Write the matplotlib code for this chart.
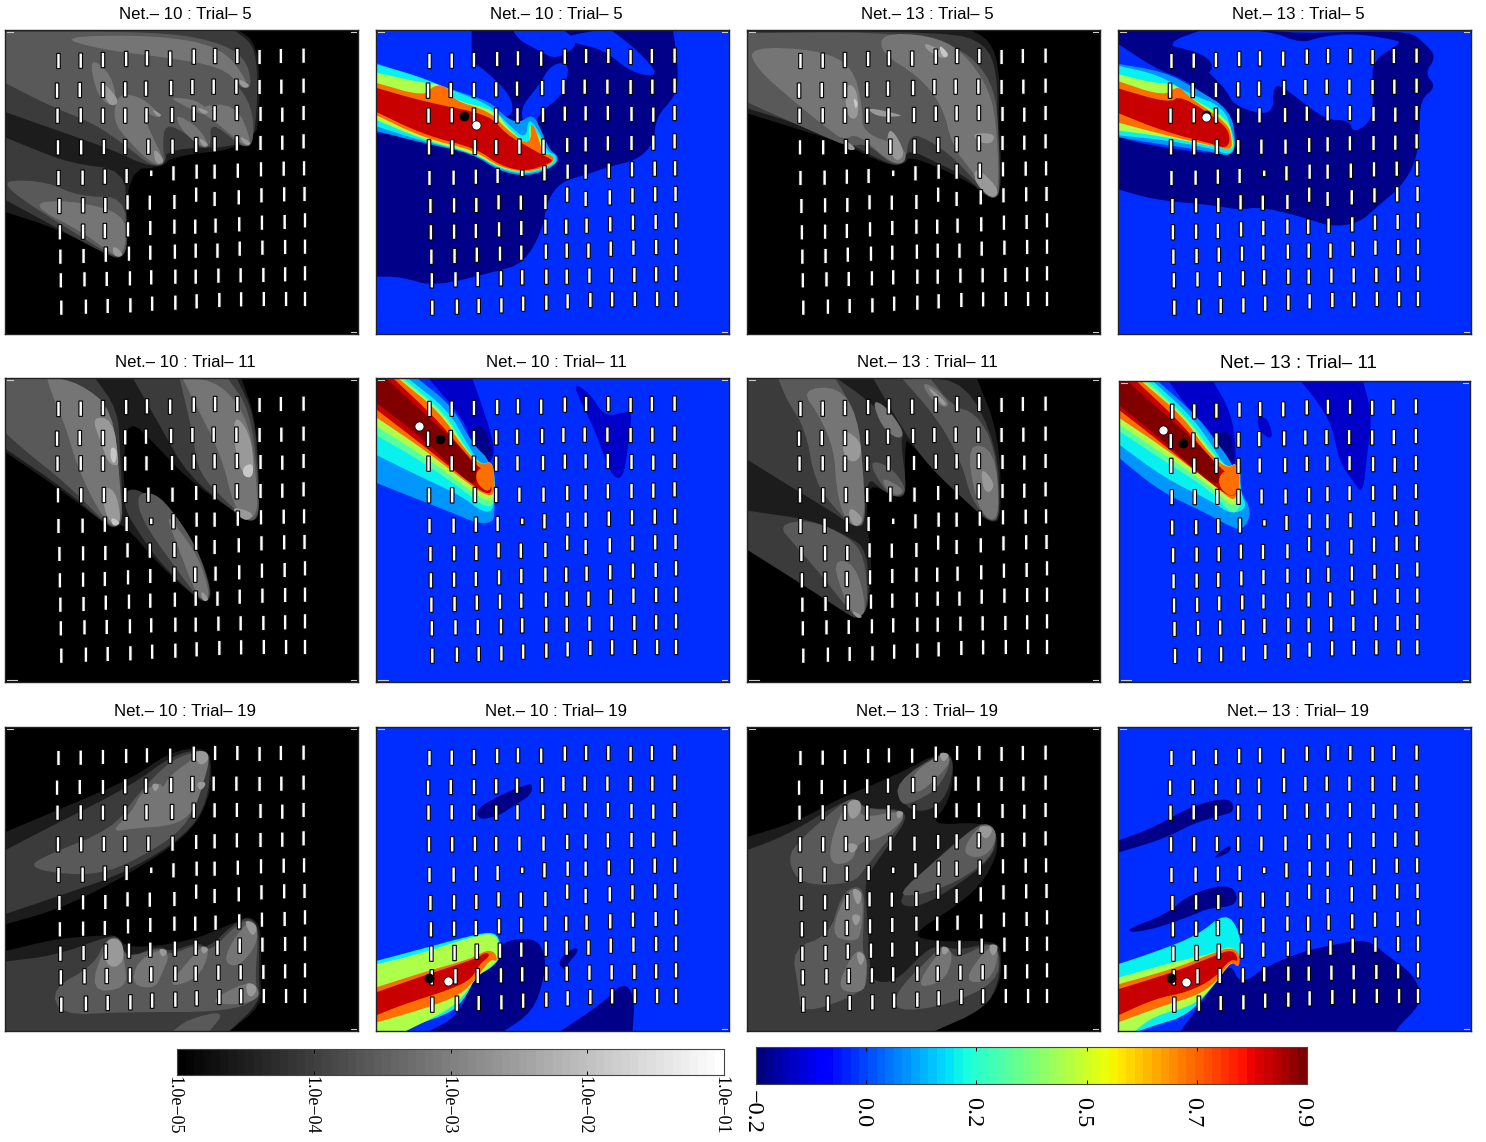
import numpy as np
import matplotlib
matplotlib.use('Agg')
import matplotlib.pyplot as plt
from matplotlib.transforms import offset_copy

W, H = 1486, 1142

# contour levels, grey maps are 0-1 grey, colour maps are values on the colourbar
G1, G2, G3, G4, G5, G6 = 0.11, 0.23, 0.35, 0.46, 0.60, 0.78
NAVY, MID, BG, LB, CY, TE, YG, OR, RD, DR = -0.19, -0.13, -0.013, 0.10, 0.196, 0.30, 0.416, 0.67, 0.83, 0.90

nets = [10, 10, 13, 13]
trials = [5, 11, 19]
grey_ticks = ['1.0e\u221205', '1.0e\u221204', '1.0e\u221203', '1.0e\u221202', '1.0e\u221201']
jet_ticks = ['\u22120.2', '0.0', '0.2', '0.5', '0.7', '0.9']
jet_pos = [-0.2, 0.02, 0.24, 0.46, 0.68, 0.9]

# sensor positions
sensor_x = [
    [125, 172, 219, 268, 312, 361, 411, 456, 503, 550, 595, 643],
    [122, 170, 219, 266, 310, 363, 408, 453, 501, 550, 596, 643],
    [123, 172, 219, 266, 311, 365, 411, 455, 502, 552, 598, 643],
    [124, 173, 221, 266, 315, 366, 416, 455, 502, 552, 598, 643],
    [125, 176, 223, 269, 321, 368, 417, 455, 504, 553, 601, 644],
    [127, 177, 224, 271, 318, 370, 416, 455, 506, 554, 602, 645],
    [128, 177, 223, 272, 319, 370, 414, 457, 507, 555, 603, 646],
    [129, 178, 225, 274, 319, 371, 415, 461, 508, 556, 604, 646],
    [130, 180, 227, 276, 321, 372, 415, 463, 510, 558, 604, 646],
    [131, 183, 229, 277, 323, 372, 417, 465, 511, 559, 606, 646],
]
sensor_y = [
    [183, 182, 180, 177, 175, 176, 170, 168, 168, 171, 168, 167],
    [272, 270, 270, 268, 266, 264, 261, 260, 260, 261, 260, 257],
    [347, 346, 347, 347, 346, 345, 341, 340, 339, 342, 344, 339],
    [442, 442, 441, 441, 440, 440, 435, 433, 430, 429, 428, 424],
    [534, 533, 530, 528, 520, 520, 515, 515, 512, 508, 506, 505],
    [618, 616, 615, 607, 608, 606, 584, 597, 592, 586, 583, 582],
    [697, 695, 693, 688, 684, 680, 680, 677, 673, 668, 666, 661],
    [770, 768, 764, 761, 758, 755, 752, 752, 746, 743, 741, 740],
    [841, 838, 837, 835, 832, 830, 830, 827, 826, 825, 823, 820],
    [923, 920, 918, 916, 911, 908, 904, 900, 898, 897, 897, 897],
]

# traced outlines, lowest level first
p1 = [
    (G1, [(0,85),(500,85),(545,130),(552,300),(540,440),(360,470),(350,500),(270,510),(268,770),(235,770),(130,690),(0,630)]),
    (G2, [(0,85),(490,85),(535,130),(545,200),(545,320),(535,440),(355,445),(350,495),(310,497),(240,450),(130,395),(0,330)]),
    (G2, [(0,405),(60,440),(150,490),(265,510),(268,640),(272,740),(258,775),(235,770),(130,690),(0,590)]),
    (G3, [(0,95),(330,95),(450,120),(520,170),(535,262),(512,265),(495,240),(535,320),(538,437),(510,440),(480,400),(445,370),(448,440),(425,445),(395,400),(350,370),(345,440),(352,495),(320,497),(270,440),(200,370),(110,320),(0,240)]),
    (G3, [(20,540),(100,545),(170,590),(265,590),(270,730),(262,770),(240,770),(150,690),(60,610),(15,560)]),
    (G4, [(120,110),(330,105),(470,140),(528,250),(512,262),(470,200),(340,170),(220,150)]),
    (G4, [(190,170),(235,220),(250,310),(232,318),(205,280)]),
    (G4, [(250,280),(300,290),(345,350),(330,352),(300,330),(320,400),(352,490),(325,495),(270,420),(240,360)]),
    (G4, [(355,290),(420,300),(445,340),(430,345),(395,320)]),
    (G4, [(410,320),(500,310),(535,430),(515,438),(470,380)]),
    (G4, [(370,340),(420,380),(445,440),(425,440),(385,390)]),
    (G4, [(60,610),(150,600),(265,640),(268,730),(255,770),(235,760),(180,700)]),
    (G5, [(215,240),(248,290),(250,312),(235,318),(222,290)]),
    (G5, [(505,235),(530,255),(522,265),(510,258)]),
    (G5, [(320,325),(345,345),(335,352)]),
    (G5, [(415,320),(445,335),(432,345)]),
    (G5, [(505,405),(535,430),(520,438)]),
    (G5, [(420,410),(445,435),(430,442)]),
    (G5, [(325,440),(352,485),(330,495)]),
    (G5, [(240,735),(262,760),(255,772),(240,765)]),
]
p2 = [
    (NAVY, [(1000,85),(1425,85),(1432,150),(1437,230),(1430,290),(1390,350),(1385,430),(1350,480),(1290,500),(1240,525),(1190,545),(1160,600),(1150,690),(1110,790),(1050,815),(920,860),(850,830),(790,830),(790,400),(1000,400),(1050,300),(1000,200),(1000,150)]),
    (BG, [(1085,85),(1190,85),(1230,130),(1180,180),(1140,150),(1100,120)]),
    (BG, [(1190,110),(1290,85),(1350,150),(1400,230),(1340,220),(1280,150),(1220,130)]),
    (BG, [(1170,190),(1210,190),(1190,290),(1150,330),(1120,400),(1100,330),(1140,260)]),
    (BG, [(790,180),(900,190),(960,170),(1000,180),(1060,250),(1090,310),(1080,360),(1010,330),(900,280),(790,240)]),
    (LB, [(790,185),(880,230),(960,270),(1040,305),(1070,350),(1100,370),(1130,340),(1150,400),(1165,450),(1185,470),(1175,500),(1120,530),(1060,515),(1000,460),(900,430),(790,390)]),
    (CY, [(790,190),(880,225),(950,265),(1040,315),(1075,370),(1115,420),(1120,350),(1145,400),(1160,455),(1180,465),(1178,495),(1120,525),(1060,510),(1005,460),(900,425),(790,375)]),
    (YG, [(790,215),(900,250),(930,250),(960,300),(1050,330),(1080,390),(1125,440),(1120,365),(1145,410),(1155,460),(1175,470),(1170,495),(1115,520),(1060,505),(1005,460),(900,420),(790,355)]),
    (OR, [(790,245),(900,290),(920,255),(950,260),(960,300),(1040,335),(1075,390),(1125,440),(1125,360),(1140,405),(1150,460),(1175,468),(1170,492),(1120,518),(1060,503),(1005,450),(900,415),(790,340)]),
    (RD, [(790,260),(900,305),(1040,345),(1070,400),(1125,445),(1150,465),(1172,480),(1165,490),(1115,515),(1060,497),(1010,445),(900,405),(790,330)]),
]
p3 = [
    (G1, [(5,85),(480,85),(530,120),(550,210),(548,370),(555,500),(550,590),(530,595),(480,540),(360,465),(350,495),(310,495),(220,430),(130,390),(5,335)]),
    (G2, [(5,95),(440,95),(520,130),(545,220),(545,380),(552,500),(548,590),(525,595),(480,530),(420,490),(355,445),(345,495),(315,493),(225,425),(130,375),(5,320)]),
    (G3, [(5,100),(300,95),(440,130),(500,180),(540,270),(548,400),(550,570),(545,590),(530,595),(490,530),(450,470),(400,420),(360,400),(350,490),(320,492),(270,430),(230,440),(180,410),(100,360),(5,300)]),
    (G4, [(20,140),(170,150),(240,200),(260,320),(260,400),(350,440),(352,490),(320,490),(250,400),(220,420),(190,390),(120,310),(35,205)]),
    (G4, [(300,100),(400,105),(470,150),(530,270),(545,400),(548,590),(525,590),(490,510),(450,440),(430,320),(380,230),(300,160)]),
    (G5, [(390,125),(445,165),(430,178),(395,150)]),
    (G5, [(225,245),(250,270),(252,360),(225,350)]),
    (G5, [(265,320),(345,345),(335,350),(290,350)]),
    (G5, [(320,380),(352,460),(330,490),(310,420)]),
    (G5, [(490,400),(540,400),(535,430),(510,430)]),
    (G5, [(500,500),(545,560),(545,590),(525,590),(495,540)]),
    (G5, [(225,420),(250,450),(225,450)]),
    (G6, [(240,290),(252,310),(245,330)]),
    (G6, [(420,130),(445,165),(430,175)]),
]
p4 = [
    (NAVY, [(795,85),(990,85),(1120,92),(1200,100),(1300,95),(1420,95),(1450,130),(1475,170),(1450,220),(1475,260),(1440,300),(1440,400),(1430,490),(1400,560),(1350,620),(1310,670),(1250,680),(1190,650),(1100,620),(1060,630),(1000,615),(880,600),(795,565),(795,400),(840,430),(1010,465),(1050,440),(1040,340),(1000,300),(945,240),(880,205),(795,125)]),
    (BG, [(990,85),(1120,92),(1190,130),(1230,110),(1300,100),(1390,120),(1400,130),(1340,180),(1340,270),(1340,360),(1300,400),(1290,360),(1240,360),(1160,270),(1130,250),(1130,350),(1050,320),(1030,270),(1010,240),(960,170),(900,130)]),
    (NAVY, [(800,110),(900,130),(1000,170),(1000,230),(915,205)]),
    (LB, [(795,190),(900,215),(965,265),(1040,330),(1052,430),(1040,470),(1000,455),(880,430),(795,410)]),
    (CY, [(795,195),(890,225),(950,280),(1025,320),(1045,400),(1050,445),(1035,465),(1000,445),(900,420),(795,405)]),
    (YG, [(795,220),(880,250),(920,250),(950,290),(1035,355),(1045,420),(1045,450),(1005,440),(900,410),(795,390)]),
    (OR, [(795,240),(900,290),(930,255),(950,290),(1035,370),(1043,420),(1042,450),(1010,440),(900,405),(795,365)]),
    (RD, [(795,262),(910,310),(935,285),(1030,375),(1040,420),(1030,445),(1010,435),(900,395),(795,335)]),
]
p5 = [
    (G1, [(5,80),(510,80),(545,220),(550,500),(530,520),(490,480),(400,390),(340,300),(270,200),(262,360),(265,430),(300,430),(350,500),(420,600),(450,720),(440,760),(420,750),(340,650),(262,520),(245,535),(220,520),(130,420),(5,300)]),
    (G2, [(5,80),(100,80),(200,80),(250,180),(255,300),(262,500),(245,535),(225,525),(140,420),(5,290)]),
    (G2, [(280,80),(400,80),(500,80),(540,200),(548,400),(550,500),(530,518),(500,490),(400,380),(340,230)]),
    (G2, [(265,420),(300,420),(350,490),(410,580),(445,710),(445,755),(420,750),(340,640),(300,560),(265,480)]),
    (G3, [(5,80),(100,80),(170,100),(240,180),(255,400),(262,510),(245,535),(225,520),(140,400),(60,310),(5,240)]),
    (G3, [(380,80),(480,80),(530,180),(548,400),(548,500),(528,518),(490,470),(420,370),(410,260)]),
    (G3, [(290,430),(330,430),(370,490),(420,600),(447,720),(440,755),(420,745),(370,650),(300,510)]),
    (G4, [(100,80),(170,100),(240,180),(255,400),(258,500),(245,530),(225,515),(190,430),(160,330),(140,230),(110,130)]),
    (G4, [(385,80),(470,100),(530,220),(545,420),(545,490),(525,515),(495,470),(470,320),(410,150)]),
    (G4, [(350,490),(380,540),(420,620),(445,730),(435,755),(415,730),(385,620)]),
    (G5, [(195,200),(240,210),(252,330),(250,350),(230,340),(215,280)]),
    (G5, [(215,410),(245,420),(258,510),(245,530),(225,500)]),
    (G5, [(495,190),(530,250),(540,370),(520,390),(498,310)]),
    (G5, [(490,470),(540,490),(525,515),(505,500)]),
    (G5, [(425,720),(445,750),(430,757)]),
    (G6, [(235,290),(250,300),(245,345),(235,330)]),
    (G6, [(235,500),(258,520),(240,532)]),
    (G6, [(515,350),(537,340),(535,385),(515,380)]),
]
p6 = [
    (MID, [(905,80),(1000,80),(1030,200),(1050,300),(1040,340),(1020,345),(1000,300),(990,230),(960,170)]),
    (MID, [(1210,95),(1250,130),(1280,200),(1320,190),(1340,180),(1330,300),(1320,385),(1300,385),(1280,320),(1260,240)]),
    (NAVY, [(1000,230),(1030,230),(1045,320),(1025,340),(1005,300)]),
    (LB, [(790,80),(880,80),(960,170),(1000,280),(1045,340),(1050,500),(1040,520),(1010,520),(960,490),(790,395)]),
    (CY, [(790,80),(860,80),(950,180),(990,280),(1020,350),(1048,330),(1050,480),(1025,490),(980,440),(890,380),(790,310)]),
    (TE, [(790,80),(850,80),(945,190),(985,290),(1020,350),(1045,330),(1050,470),(1025,470),(990,430),(900,340),(790,250)]),
    (YG, [(790,80),(845,80),(940,190),(983,290),(1020,350),(1045,330),(1050,450),(1030,455),(995,420),(900,320),(790,222)]),
    (OR, [(790,80),(840,80),(935,190),(980,290),(1020,350),(1045,330),(1050,430),(1035,440),(1000,410),(900,300),(790,195)]),
    (RD, [(790,80),(830,80),(920,200),(975,290),(1015,355),(1030,360),(1045,420),(1035,435),(1005,410),(900,290),(790,170)]),
    (DR, [(790,75),(815,80),(910,205),(960,270),(1010,350),(1010,405),(985,390),(900,270),(790,150)]),
    (OR, [(1010,360),(1040,345),(1045,400),(1035,430),(1010,400)]),
]
p7 = [
    (G1, [(5,80),(500,80),(548,250),(555,510),(530,520),(490,470),(360,280),(350,270),(350,440),(330,445),(270,395),(270,530),(280,620),(275,770),(250,810),(225,790),(130,690),(5,560)]),
    (G2, [(5,80),(200,80),(270,150),(350,260),(340,265),(355,430),(335,445),(300,420),(270,380),(265,520),(245,535),(200,490),(130,430),(5,320)]),
    (G2, [(280,80),(380,80),(480,100),(545,290),(552,500),(530,520),(490,470),(400,350),(350,250)]),
    (G2, [(5,480),(50,490),(150,510),(230,560),(270,600),(275,770),(250,810),(225,790),(150,720),(5,590)]),
    (G3, [(80,80),(200,80),(250,200),(260,350),(268,520),(245,535),(210,490),(160,400),(140,240),(100,150)]),
    (G3, [(270,330),(320,350),(355,420),(335,443),(310,430)]),
    (G3, [(340,80),(400,80),(450,170),(500,190),(540,290),(552,500),(530,520),(490,450),(470,340),(420,210)]),
    (G3, [(80,525),(150,510),(230,560),(265,620),(272,770),(250,810),(225,770),(175,680),(120,590)]),
    (G4, [(130,120),(210,110),(250,200),(262,370),(265,510),(245,535),(220,500),(205,420),(200,300),(170,200)]),
    (G4, [(280,150),(310,170),(350,250),(335,270),(300,230)]),
    (G4, [(385,95),(420,120),(445,165),(430,175),(400,140)]),
    (G4, [(480,280),(540,300),(550,490),(530,518),(500,460)]),
    (G4, [(195,630),(245,640),(270,780),(250,808),(225,760)]),
    (G4, [(300,380),(350,420),(335,440),(310,420)]),
    (G5, [(215,235),(255,270),(258,320),(240,340),(220,320)]),
    (G5, [(390,100),(440,160),(430,172)]),
    (G5, [(510,350),(540,400),(530,430),(515,420)]),
    (G5, [(235,470),(265,510),(245,535),(230,500)]),
    (G5, [(235,780),(262,800),(250,808)]),
]
p8 = [
    (MID, [(905,80),(1000,80),(1040,180),(1050,280),(1050,340),(1030,355),(1010,300),(1000,240),(950,170)]),
    (MID, [(1095,190),(1120,200),(1130,265),(1100,240)]),
    (MID, [(1185,80),(1320,80),(1340,190),(1330,300),(1320,430),(1300,390),(1270,330),(1255,220),(1220,140)]),
    (NAVY, [(1010,240),(1040,240),(1048,330),(1030,350),(1012,300)]),
    (LB, [(795,80),(880,80),(960,180),(1010,270),(1045,340),(1060,420),(1085,480),(1065,540),(1030,520),(980,480),(890,420),(795,310)]),
    (CY, [(795,80),(870,80),(955,190),(1000,280),(1030,350),(1060,340),(1060,420),(1075,470),(1040,490),(1000,450),(900,380),(795,270)]),
    (TE, [(795,80),(860,80),(950,200),(995,290),(1030,350),(1055,330),(1060,420),(1060,470),(1040,490),(1000,420),(890,320),(795,230)]),
    (YG, [(795,80),(852,80),(945,198),(990,290),(1030,350),(1055,330),(1060,420),(1055,455),(1040,465),(1000,408),(890,300),(795,210)]),
    (OR, [(795,80),(845,80),(940,195),(985,290),(1030,352),(1055,330),(1060,410),(1050,440),(1040,445),(1000,395),(890,280),(795,190)]),
    (RD, [(795,80),(835,80),(925,200),(980,290),(1025,360),(1040,365),(1055,410),(1045,440),(1010,410),(890,270),(795,165)]),
    (DR, [(795,80),(815,80),(915,205),(965,270),(1015,345),(1015,400),(990,385),(890,260),(795,150)]),
    (OR, [(1015,365),(1050,345),(1058,400),(1045,440),(1015,410)]),
]
p9 = [
    (G1, [(5,415),(130,340),(280,250),(360,170),(430,155),(450,190),(445,310),(400,420),(270,540),(130,640),(5,690)]),
    (G1, [(5,770),(120,730),(220,720),(250,720),(270,760),(400,740),(500,680),(530,660),(555,700),(552,850),(555,930),(480,1015),(5,1015)]),
    (G2, [(5,470),(100,400),(280,270),(365,180),(430,160),(447,190),(440,320),(395,420),(270,530),(130,600),(5,660)]),
    (G2, [(5,800),(120,780),(225,725),(255,722),(268,790),(340,750),(360,770),(420,740),(440,760),(500,680),(530,665),(550,700),(548,850),(552,920),(480,1015),(5,1015)]),
    (G3, [(65,510),(100,480),(240,400),(290,300),(365,190),(430,165),(445,200),(420,290),(395,400),(270,510),(190,540),(100,530)]),
    (G3, [(110,880),(200,810),(225,730),(255,725),(265,790),(340,755),(360,780),(420,745),(445,770),(500,690),(530,670),(548,700),(540,860),(550,910),(480,950),(260,950),(130,960)]),
    (G3, [(360,1015),(400,970),(480,945),(440,1015)]),
    (G4, [(235,410),(280,350),(300,290),(340,260),(345,280),(360,240),(420,180),(435,165),(445,190),(430,270),(410,350),(370,390),(280,400)]),
    (G4, [(190,890),(225,740),(255,725),(265,800),(270,880)]),
    (G4, [(280,870),(290,800),(340,760),(360,780),(345,830),(330,880)]),
    (G4, [(350,880),(410,780),(430,750),(445,770),(420,850)]),
    (G4, [(470,790),(525,670),(548,700),(540,760),(500,820)]),
    (G4, [(440,920),(520,860),(545,870),(550,910),(500,930)]),
    (G5, [(405,170),(435,165),(445,190),(425,215)]),
    (G5, [(320,265),(340,265),(330,295)]),
    (G5, [(415,260),(440,260),(425,290)]),
    (G5, [(225,730),(258,730),(265,790),(245,820),(222,800)]),
    (G5, [(335,758),(358,765),(345,790)]),
    (G5, [(425,750),(445,760),(430,780)]),
    (G5, [(515,670),(548,690),(535,730)]),
    (G5, [(520,860),(545,870),(540,900),(525,905)]),
]
p10 = [
    (NAVY, [(1010,340),(1060,300),(1110,270),(1130,265),(1125,300),(1090,330),(1060,360),(1015,375)]),
    (NAVY, [(1180,800),(1215,755),(1228,765),(1200,810),(1200,830)]),
    (NAVY, [(900,1015),(975,960),(1005,830),(1040,800),(1060,740),(1130,725),(1155,770),(1155,840),(1130,950),(1060,1015)]),
    (NAVY, [(1180,1015),(1280,920),(1320,860),(1345,900),(1340,1015)]),
    (CY, [(790,800),(870,770),(1000,720),(1050,708),(1063,750),(1060,790),(1040,820),(1010,840),(990,900),(960,950),(880,990),(840,1015),(790,1015)]),
    (YG, [(790,810),(880,780),(1000,725),(1048,712),(1060,750),(1058,790),(1040,815),(1010,845),(985,900),(950,945),(850,1015),(790,1015)]),
    (OR, [(790,880),(900,830),(1000,790),(1030,765),(1050,770),(1055,800),(1040,790),(1010,850),(975,900),(900,940),(790,985)]),
    (RD, [(790,895),(900,840),(1010,790),(1030,770),(1040,780),(1015,810),(1000,850),(960,880),(850,930),(790,965)]),
]
p11 = [
    (G1, [(5,430),(120,380),(210,310),(330,240),(430,165),(455,195),(445,320),(400,390),(510,380),(545,410),(545,480),(510,570),(450,640),(360,720),(420,740),(540,735),(555,770),(550,880),(500,950),(400,1015),(5,1015)]),
    (G2, [(5,470),(100,420),(215,320),(250,310),(265,340),(340,340),(355,370),(320,440),(275,530),(265,570),(270,660),(275,800),(280,860),(330,860),(390,770),(420,750),(445,760),(480,760),(530,740),(552,770),(548,860),(520,940),(400,1015),(5,1015)]),
    (G2, [(330,260),(430,165),(455,195),(440,300),(400,350),(350,340)]),
    (G2, [(330,620),(400,510),(500,390),(530,385),(545,420),(535,490),(440,590),(370,640)]),
    (G3, [(100,490),(130,430),(215,325),(245,305),(262,340),(340,345),(350,370),(310,440),(265,520),(240,565),(130,570)]),
    (G3, [(110,760),(190,720),(215,600),(245,570),(265,590),(262,700),(260,760),(270,830),(265,890),(130,960),(125,880)]),
    (G3, [(330,260),(430,170),(450,195),(420,280),(370,320),(340,330)]),
    (G3, [(330,600),(420,490),(500,390),(530,385),(545,420),(530,490),(460,560),(380,600)]),
    (G3, [(330,890),(400,790),(430,750),(447,770),(460,790),(530,740),(550,770),(545,860),(440,930),(330,950)]),
    (G4, [(195,420),(230,310),(258,320),(255,370),(340,345),(350,370),(300,430),(250,440),(240,500),(190,510)]),
    (G4, [(190,720),(230,575),(262,590),(258,720),(240,740)]),
    (G4, [(210,860),(245,760),(270,780),(268,860),(260,890),(220,890)]),
    (G4, [(470,470),(500,400),(530,385),(545,420),(530,470),(500,490)]),
    (G4, [(370,880),(420,770),(445,755),(450,800),(430,860)]),
    (G4, [(470,860),(530,745),(550,770),(530,860)]),
    (G4, [(360,240),(430,170),(450,195),(410,260),(370,300)]),
    (G5, [(225,320),(255,310),(258,350),(235,380)]),
    (G5, [(330,345),(350,350),(335,375)]),
    (G5, [(420,170),(447,175),(430,205)]),
    (G5, [(500,390),(540,395),(520,440)]),
    (G5, [(225,440),(255,450),(235,480)]),
    (G5, [(235,575),(262,590),(250,640)]),
    (G5, [(235,655),(260,660),(245,700)]),
    (G5, [(245,765),(268,780),(255,820)]),
    (G5, [(425,750),(447,760),(430,785)]),
    (G5, [(525,745),(550,750),(535,790)]),
]
p12 = [
    (NAVY, [(795,440),(880,395),(960,330),(1040,305),(1048,350),(1020,360),(960,385),(900,430),(795,475)]),
    (NAVY, [(1005,485),(1040,445),(1040,470),(1010,488)]),
    (NAVY, [(822,700),(900,660),(960,590),(1045,565),(1058,630),(990,640),(960,660),(880,700),(830,712)]),
    (NAVY, [(930,1015),(1005,870),(1040,800),(1060,870),(1120,810),(1190,770),(1250,750),(1330,730),(1370,780),(1420,830),(1440,880),(1440,930),(1390,1000),(1390,1015)]),
    (CY, [(795,810),(880,770),(970,720),(1030,650),(1060,710),(1062,790),(1040,800),(1005,870),(950,960),(880,990),(830,1015),(795,1015)]),
    (YG, [(795,850),(920,800),(1000,775),(1040,750),(1060,780),(1055,810),(1040,800),(1010,860),(965,930),(880,960),(830,1015),(795,1015)]),
    (OR, [(795,870),(920,820),(1000,775),(1040,755),(1060,775),(1058,820),(1040,795),(1010,860),(970,900),(900,930),(795,985)]),
    (RD, [(795,885),(920,830),(1000,785),(1045,760),(1058,800),(1040,790),(1005,850),(950,890),(880,910),(795,965)]),
]
panels = [p1, p2, p3, p4, p5, p6, p7, p8, p9, p10, p11, p12]

# black and white sources on the colour panels, by panel index
black_dots = {1: (983, 347), 3: (989, 345), 5: (933, 267), 7: (938, 272), 9: (910, 848), 11: (914, 848)}
white_dots = {1: (1010, 376), 3: (989, 352), 5: (888, 228), 7: (895, 233), 9: (951, 856), 11: (946, 860)}

left_px = [5, 376, 747, 1118]
top_px = [30, 378, 727]
x_origin = [12, 798, 16, 802]
y_origin = [90, 85, 95]


def smooth(pts, x0, y0):
    # corner cutting so the traced outlines look like contours,
    # vertices outside the frame stay sharp so regions reach the edge
    out = []
    for x, y in pts:
        off = x < x0 or x > x0 + 746 or y < y0 or y > y0 + 912
        out += [(x, y)] * (3 if off else 1)
    pts = np.array(out, dtype=float)
    for _ in range(2):
        nxt = np.roll(pts, -1, axis=0)
        pts = np.column_stack([0.75 * pts + 0.25 * nxt, 0.25 * pts + 0.75 * nxt]).reshape(-1, 2)
    return pts


def px_axes(x0, y0, x1, y1):
    return fig.add_axes([x0 / W, 1 - y1 / H, (x1 - x0) / W, (y1 - y0) / H])


plt.rcParams['font.family'] = ['Liberation Sans']
fig = plt.figure(figsize=(W / 100, H / 100), dpi=100)
jet = plt.get_cmap('jet')
to_jet = lambda v: jet((v + 0.2) / 1.1)

sx = np.array(sensor_x, dtype=float)
sy = np.array(sensor_y, dtype=float)
lengths = np.full(sx.shape, 46.0)
lengths[4, 4] = 20.0

for r in range(3):
    for c in range(4):
        idx = r * 4 + c
        x0, y0 = x_origin[c], y_origin[r]
        if idx == 7:
            ax = px_axes(1119, 381, 1470, 682)
        else:
            ax = px_axes(left_px[c], top_px[r], left_px[c] + 353, top_px[r] + 304)
        is_colour = c % 2 == 1
        ax.set_facecolor(to_jet(BG) if is_colour else 'black')
        for level, pts in panels[idx]:
            col = to_jet(level) if is_colour else str(level)
            xy = smooth(pts, x0, y0)
            ax.fill(xy[:, 0], xy[:, 1], color=col, linewidth=0, zorder=1)
        ax.bar((sx + x0 - 12).ravel(), lengths.ravel(), bottom=(sy + y0 - 90 - lengths / 2).ravel(),
               width=7.5, color='white', edgecolor='black', linewidth=0.8, zorder=3, snap=False)
        if idx in black_dots:
            ax.plot(*black_dots[idx], 'o', color='black', ms=6.5, mec='black', mew=0.5, zorder=4)
            ax.plot(*white_dots[idx], 'o', color='white', ms=6.5, mec='black', mew=0.5, zorder=5)
        ax.set_xlim(x0, x0 + 746)
        ax.set_ylim(y0 + 912, y0)
        ax.set_xticks([])
        ax.set_yticks([])
        # short pale marks left in the frame corners
        marks = [(0.005, 0.022, 0.995), (0.98, 0.995, 0.995), (0.98, 0.995, 0.005)]
        if r == 1:
            marks.append((0.005, 0.035, 0.005))
        for xa, xb, ya in marks:
            ax.plot([xa, xb], [ya, ya], color='#cccccc', lw=0.8, transform=ax.transAxes, zorder=6)
        for s in ax.spines.values():
            s.set_linewidth(1.0)
            s.set_color('#222222')
        size = 13.5 if idx == 7 else 12.1
        ax.set_title(f'Net.\u2013 {nets[c]} : Trial\u2013 {trials[r]}', fontsize=size, x=0.51,
                     pad=9.5 if idx == 7 else 8)

# grey colourbar
cax = px_axes(177, 1049, 724, 1075)
cax.imshow(np.arange(64)[None, :], cmap=plt.get_cmap('gray', 64), aspect='auto', extent=[0, 4, 0, 1])
cax.set_yticks([])
cax.set_xticks(range(5))
cax.set_xticklabels([])
cax.tick_params(axis='x', direction='in', top=True, length=3, width=0.7)
grey_tr = offset_copy(cax.get_xaxis_transform(), fig, x=-3, units='dots')
for pos, lab in enumerate(grey_ticks):
    cax.text(pos, -1.18, lab, transform=grey_tr, rotation=-90, ha='center', va='center',
             family='Liberation Serif', fontsize=13)

# jet colourbar
jax = px_axes(756, 1047, 1307, 1084)
jax.imshow(np.arange(64)[None, :], cmap=plt.get_cmap('jet', 64), aspect='auto', extent=[-0.2, 0.9, 0, 1])
jax.set_yticks([])
jax.set_xticks(jet_pos)
jax.set_xticklabels([])
jax.tick_params(axis='x', direction='in', top=True, length=3, width=0.7)
jet_tr = offset_copy(jax.get_xaxis_transform(), fig, x=-4, units='dots')
for pos, lab in zip(jet_pos, jet_ticks):
    jax.text(pos, -0.76, lab, transform=jet_tr, rotation=-90, ha='center', va='center',
             family='Liberation Serif', fontsize=17.5)
for a in (cax, jax):
    for s in a.spines.values():
        s.set_linewidth(0.8)
        s.set_color('#444444')

fig.savefig('out.png', dpi=100)
